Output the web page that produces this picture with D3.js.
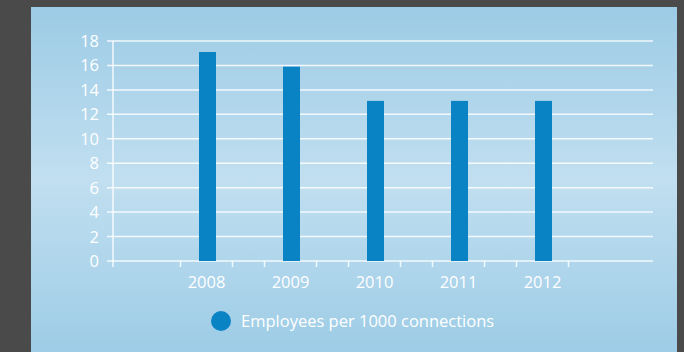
<!DOCTYPE html>
<html><head><meta charset="utf-8">
<script src="https://cdn.jsdelivr.net/npm/d3@7"></script>
<style>html,body{margin:0;padding:0;background:#4a4a4a;}svg{display:block;}</style>
</head><body>
<script>
const years = ["2008","2009","2010","2011","2012"];
const employees = [17.1, 15.9, 13.1, 13.1, 13.1];
const yTicks = [0,2,4,6,8,10,12,14,16,18];
const seriesName = "Employees per 1000 connections";

const W=684,H=352;
const svg=d3.select("body").append("svg").attr("width",W).attr("height",H);
const defs=svg.append("defs");
const g=defs.append("linearGradient").attr("id","bg").attr("x1",0).attr("y1",0).attr("x2",0).attr("y2",1);
g.append("stop").attr("offset","0%").attr("stop-color","#9ccbe5");
g.append("stop").attr("offset","50%").attr("stop-color","#c1dff0");
g.append("stop").attr("offset","100%").attr("stop-color","#9dcce6");
svg.append("rect").attr("width",W).attr("height",H).attr("fill","#4a4a4a");
svg.append("rect").attr("x",31).attr("y",7).attr("width",646).attr("height",H-7).attr("fill","url(#bg)");

const y=d3.scaleLinear().domain([0,18]).range([261,41]);
const x=d3.scalePoint().domain(years).range([207.5,543.5]);
const font="'Open Sans', sans-serif";
const fs=16.5;

// gridlines
svg.append("g").selectAll("line").data(yTicks).join("line")
 .attr("x1",107).attr("x2",653).attr("y1",d=>y(d)).attr("y2",d=>y(d))
 .attr("stroke","#ffffff").attr("stroke-opacity",0.85).attr("stroke-width",1.5);
// y axis line
svg.append("line").attr("x1",113).attr("x2",113).attr("y1",y(18)).attr("y2",267)
 .attr("stroke","#ffffff").attr("stroke-opacity",0.85).attr("stroke-width",1.5);
// y labels
svg.append("g").selectAll("text").data(yTicks).join("text")
 .attr("x",99).attr("y",d=>y(d)+6).attr("text-anchor","end")
 .attr("font-family",font).attr("font-size",fs).attr("fill","#ffffff").text(d=>d);

// bars
svg.append("g").selectAll("rect").data(years).join("rect")
 .attr("x",d=>x(d)-8.5).attr("width",17)
 .attr("y",(d,i)=>y(employees[i])).attr("height",(d,i)=>y(0)-y(employees[i]))
 .attr("fill","#0a83c5");

// x ticks
const tickPos=[];
years.forEach(d=>{tickPos.push(x(d)-27);tickPos.push(x(d)+25);});
svg.append("g").selectAll("line").data(tickPos).join("line")
 .attr("x1",d=>d).attr("x2",d=>d).attr("y1",261).attr("y2",267)
 .attr("stroke","#ffffff").attr("stroke-opacity",0.85).attr("stroke-width",1.5);
// x labels
svg.append("g").selectAll("text").data(years).join("text")
 .attr("x",d=>x(d)-1).attr("y",288).attr("text-anchor","middle")
 .attr("font-family",font).attr("font-size",fs).attr("fill","#ffffff").text(d=>d);

// legend
svg.append("circle").attr("cx",221).attr("cy",321).attr("r",10).attr("fill","#0a83c5");
svg.append("text").attr("x",241).attr("y",327).attr("font-family",font).attr("font-size",fs)
 .attr("fill","#ffffff").text(seriesName);
</script>
</body></html>
